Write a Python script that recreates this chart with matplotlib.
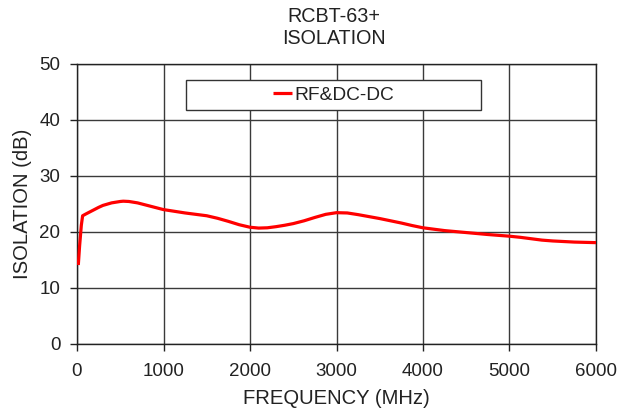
import matplotlib
matplotlib.use("Agg")
import matplotlib.pyplot as plt
from matplotlib.patches import Rectangle

plt.rcParams['font.family'] = ['Liberation Sans', 'DejaVu Sans']

# values
freq_mhz = [15, 30, 50, 65, 100, 150, 200, 250, 300, 400, 500, 535, 600, 700, 800, 900,
            1000, 1125, 1250, 1375, 1500, 1625, 1750, 1875, 2000, 2100, 2200,
            2300, 2400, 2500, 2625, 2750, 2875, 3000, 3125, 3250, 3375, 3500,
            3625, 3750, 3875, 4000, 4250, 4500, 4750, 5000, 5125, 5250, 5375,
            5500, 5750, 6000]
isolation_db = [14.1, 17.5, 21.2, 22.9, 23.2, 23.6, 24.0, 24.4, 24.75, 25.2, 25.45, 25.5, 25.45, 25.2, 24.8, 24.4,
                24.0, 23.7, 23.4, 23.15, 22.9, 22.45, 21.9, 21.3, 20.85, 20.7, 20.75,
                20.95, 21.2, 21.5, 22.0, 22.6, 23.15, 23.45, 23.4, 23.1, 22.75, 22.4,
                22.0, 21.6, 21.15, 20.75, 20.25, 19.9, 19.55, 19.25, 19.05, 18.8, 18.55,
                18.4, 18.2, 18.1]
x_ticks = [0, 1000, 2000, 3000, 4000, 5000, 6000]
y_ticks = [0, 10, 20, 30, 40, 50]

fig = plt.figure(figsize=(6.31, 4.13), dpi=100)
ax = fig.add_axes([77 / 631, 1 - 344 / 413, 519 / 631, 280 / 413])

line, = ax.plot(freq_mhz, isolation_db, color='#ff0000', lw=2.3, label='RF&DC-DC',
                solid_capstyle='butt', zorder=3)

ax.set_xlim(0, 6000)
ax.set_ylim(0, 50)
ax.set_xticks(x_ticks)
ax.set_yticks(y_ticks)
ax.grid(True, color='#3a3a3a', lw=1.0)
ax.set_axisbelow(True)
for s in ax.spines.values():
    s.set_color('#222222')
    s.set_linewidth(1.0)
ax.tick_params(labelsize=13.5, length=5, width=1, color='#222222', labelcolor='#222222')
ax.tick_params(axis='x', pad=9)
ax.tick_params(axis='y', pad=7)

ax.set_xlabel('FREQUENCY (MHz)', fontsize=14.6, color='#222222', labelpad=6)
ax.set_ylabel('ISOLATION (dB)', fontsize=14.6, color='#222222', labelpad=5)
fig.text(334 / 631, 1 - 28 / 413, 'RCBT-63+\nISOLATION', ha='center', va='center',
         fontsize=14.2, color='#222222', linespacing=1.2)

# legend box drawn as a white rectangle, legend text centred on it
box = Rectangle((0.21, 0.836), 0.568, 0.107, transform=ax.transAxes,
                facecolor='white', edgecolor='#333333', lw=1.0, zorder=4)
ax.add_patch(box)
leg = ax.legend(loc='center', bbox_to_anchor=(0.21 + 0.568 / 2, 0.836 + 0.107 / 2),
                fontsize=13.8, handlelength=1.0, handletextpad=0.1,
                frameon=False, borderpad=0, borderaxespad=0)
leg.set_zorder(5)
for t in leg.get_texts():
    t.set_color('#222222')

fig.savefig('out.png', dpi=100)
